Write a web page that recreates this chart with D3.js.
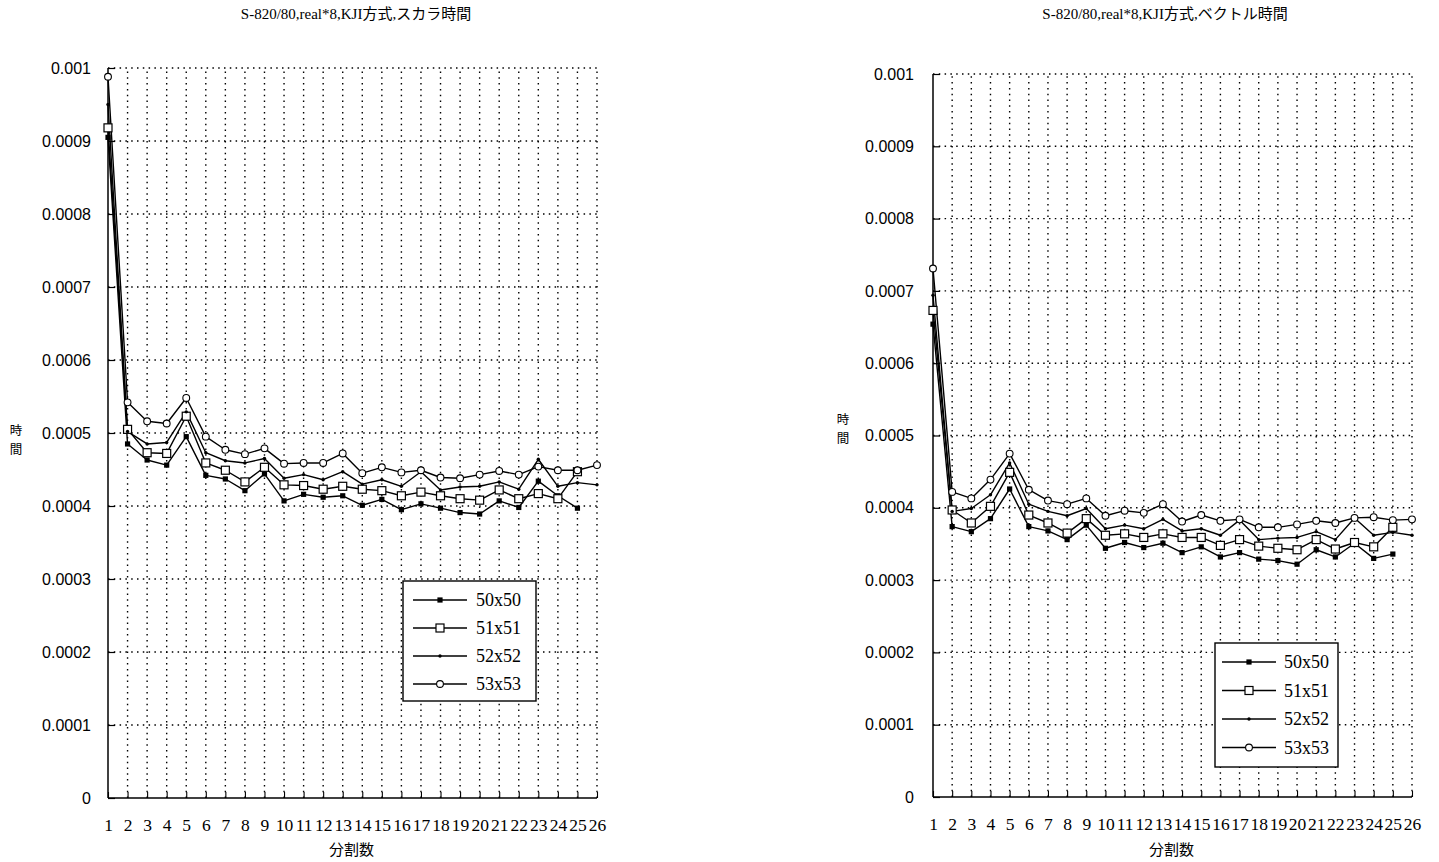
<!DOCTYPE html>
<html>
<head>
<meta charset="utf-8">
<script src="https://cdn.jsdelivr.net/npm/d3@7/dist/d3.min.js"></script>
<style>
  html, body { margin: 0; padding: 0; background: #fff; }
  svg { display: block; }
</style>
</head>
<body>
<svg id="chart" width="1439" height="862"></svg>
<script>
// Number of divisions (x categories)
const categories = [1, 2, 3, 4, 5, 6, 7, 8, 9, 10, 11, 12, 13, 14, 15, 16, 17, 18, 19, 20, 21, 22, 23, 24, 25, 26];

// Y axis ticks and their labels
const yTicks = [0, 0.0001, 0.0002, 0.0003, 0.0004, 0.0005, 0.0006, 0.0007, 0.0008, 0.0009, 0.001];
const yTickLabels = ["0", "0.0001", "0.0002", "0.0003", "0.0004", "0.0005", "0.0006", "0.0007", "0.0008", "0.0009", "0.001"];

const seriesNames = ["50x50", "51x51", "52x52", "53x53"];

// Scalar time (seconds)
const scalar50 = [0.000905, 0.000485, 0.000463, 0.000456, 0.000495, 0.000442, 0.000437, 0.000421, 0.000444, 0.000407, 0.000416, 0.000412, 0.000414, 0.000401, 0.000409, 0.000395, 0.000403, 0.000397, 0.000391, 0.000389, 0.000407, 0.000398, 0.000434, 0.000414, 0.000397, null];
const scalar51 = [0.000918, 0.000505, 0.000473, 0.000472, 0.000523, 0.000459, 0.000449, 0.000433, 0.000453, 0.000429, 0.000428, 0.000423, 0.000427, 0.000423, 0.000421, 0.000414, 0.000419, 0.000414, 0.000410, 0.000408, 0.000422, 0.000410, 0.000417, 0.000410, 0.000447, null];
const scalar52 = [0.000950, 0.000502, 0.000485, 0.000487, 0.000529, 0.000473, 0.000462, 0.000459, 0.000465, 0.000438, 0.000443, 0.000436, 0.000447, 0.000430, 0.000436, 0.000427, 0.000447, 0.000422, 0.000426, 0.000427, 0.000433, 0.000423, 0.000464, 0.000427, 0.000432, 0.000429];
const scalar53 = [0.000988, 0.000542, 0.000516, 0.000513, 0.000548, 0.000495, 0.000477, 0.000471, 0.000479, 0.000458, 0.000459, 0.000459, 0.000472, 0.000445, 0.000453, 0.000446, 0.000449, 0.000439, 0.000438, 0.000443, 0.000448, 0.000443, 0.000454, 0.000449, 0.000449, 0.000456];

// Vector time (seconds)
const vector50 = [0.000654, 0.000374, 0.000367, 0.000385, 0.000426, 0.000374, 0.000368, 0.000356, 0.000376, 0.000344, 0.000352, 0.000345, 0.000351, 0.000338, 0.000346, 0.000332, 0.000338, 0.000329, 0.000327, 0.000322, 0.000342, 0.000332, 0.000351, 0.000330, 0.000336, null];
const vector51 = [0.000673, 0.000397, 0.000379, 0.000402, 0.000449, 0.000390, 0.000379, 0.000365, 0.000385, 0.000362, 0.000364, 0.000359, 0.000364, 0.000359, 0.000359, 0.000348, 0.000356, 0.000347, 0.000344, 0.000342, 0.000356, 0.000343, 0.000352, 0.000346, 0.000373, null];
const vector52 = [0.000694, 0.000395, 0.000399, 0.000418, 0.000462, 0.000405, 0.000395, 0.000389, 0.000399, 0.000371, 0.000376, 0.000371, 0.000384, 0.000368, 0.000371, 0.000362, 0.000383, 0.000356, 0.000358, 0.000359, 0.000367, 0.000356, 0.000386, 0.000362, 0.000366, 0.000362];
const vector53 = [0.000731, 0.000422, 0.000413, 0.000439, 0.000475, 0.000425, 0.000410, 0.000405, 0.000413, 0.000389, 0.000396, 0.000393, 0.000405, 0.000381, 0.000390, 0.000382, 0.000384, 0.000373, 0.000373, 0.000377, 0.000382, 0.000379, 0.000386, 0.000387, 0.000383, 0.000384];

const svg = d3.select("#chart");
svg.append("rect").attr("width", 1439).attr("height", 862).attr("fill", "#fff");

const serif = "'Liberation Serif', 'DejaVu Serif', serif";
const sans = "'Liberation Sans', Arial, sans-serif";
const cjk = "'Noto Sans CJK JP', sans-serif";

// Marker drawing per series
function drawMarker(g, kind, cx, cy) {
  if (kind === 0) {
    g.append("rect").attr("x", cx - 2.6).attr("y", cy - 2.6).attr("width", 5.2).attr("height", 5.2).attr("fill", "#000");
  } else if (kind === 1) {
    g.append("rect").attr("x", cx - 4).attr("y", cy - 4).attr("width", 8).attr("height", 8)
      .attr("fill", "#fff").attr("stroke", "#000").attr("stroke-width", 1.2);
  } else if (kind === 2) {
    g.append("circle").attr("cx", cx).attr("cy", cy).attr("r", 1.7).attr("fill", "#000");
  } else {
    g.append("circle").attr("cx", cx).attr("cy", cy).attr("r", 3.4)
      .attr("fill", "#fff").attr("stroke", "#000").attr("stroke-width", 1.1);
  }
}

function drawPanel(cfg) {
  const x = d3.scalePoint().domain(categories).range([cfg.x0, cfg.x1]);
  const y = d3.scaleLinear().domain([0, 0.001]).range([cfg.yb, cfg.yt]);
  const g = svg.append("g");

  // Dotted grid
  const grid = g.append("g").attr("stroke", "#000").attr("stroke-width", 1.4)
    .attr("stroke-dasharray", "1.5,4.3").attr("fill", "none");
  categories.slice(1).forEach(c => {
    grid.append("line").attr("x1", x(c)).attr("x2", x(c)).attr("y1", y(0)).attr("y2", y(0.001));
  });
  yTicks.slice(1).forEach(v => {
    grid.append("line").attr("x1", cfg.x0).attr("x2", cfg.x1).attr("y1", y(v)).attr("y2", y(v));
  });

  // Y axis
  const yAxis = d3.axisLeft(y).tickValues(yTicks)
    .tickFormat((d, i) => yTickLabels[i]).tickSize(-7).tickPadding(cfg.yPad);
  const ya = g.append("g").attr("transform", `translate(${cfg.x0},0)`).call(yAxis);
  ya.select(".domain").attr("stroke", "#000").attr("stroke-width", 1.5).attr("d", `M0,${cfg.yb}V${cfg.yt}`);
  ya.selectAll(".tick line").attr("stroke", "#000").attr("stroke-width", 1.2);
  ya.selectAll(".tick text").attr("font-family", sans).attr("font-size", 16).attr("fill", "#000");

  // X axis
  const xAxis = d3.axisBottom(x).tickSize(-6).tickPadding(21);
  const xa = g.append("g").attr("transform", `translate(0,${cfg.yb})`).call(xAxis);
  xa.select(".domain").attr("stroke", "#000").attr("stroke-width", 1.5).attr("d", `M${cfg.x0},0H${cfg.x1}`);
  xa.selectAll(".tick line").attr("stroke", "#000").attr("stroke-width", 1.1);
  xa.selectAll(".tick text").attr("font-family", serif).attr("font-size", 17.5).attr("fill", "#000");

  // Lines and markers
  const line = d3.line().defined(d => d[1] !== null).x(d => x(d[0])).y(d => y(d[1]));
  cfg.series.forEach((vals, k) => {
    const pts = categories.map((c, i) => [c, vals[i]]);
    g.append("path").datum(pts).attr("d", line).attr("fill", "none")
      .attr("stroke", "#000").attr("stroke-width", 1.4).attr("stroke-linejoin", "round");
  });
  cfg.series.forEach((vals, k) => {
    const mg = g.append("g");
    categories.forEach((c, i) => {
      if (vals[i] !== null) drawMarker(mg, k, x(c), y(vals[i]));
    });
  });

  // Title
  g.append("text").attr("x", cfg.titleX).attr("y", 19).attr("text-anchor", "middle")
    .attr("font-family", `${serif}, ${cjk}`).attr("font-size", 15).attr("fill", "#000").text(cfg.title);

  // Y title, characters stacked vertically
  ["時", "間"].forEach((ch, i) => {
    g.append("text").attr("x", cfg.yTitleX).attr("y", cfg.yTitleY + i * 18.5)
      .attr("text-anchor", "middle").attr("font-family", cjk).attr("font-size", 12.5)
      .attr("fill", "#000").text(ch);
  });

  // X title
  g.append("text").attr("x", (cfg.x0 + cfg.x1) / 2 - 1).attr("y", 855).attr("text-anchor", "middle")
    .attr("font-family", cjk).attr("font-size", 15).attr("fill", "#000").text("分割数");

  // Legend
  const L = cfg.legend;
  const lg = g.append("g");
  lg.append("rect").attr("x", L.x).attr("y", L.y).attr("width", L.w).attr("height", L.h)
    .attr("fill", "#fff").attr("stroke", "#000").attr("stroke-width", 1.4);
  seriesNames.forEach((name, k) => {
    const ly = L.y + L.first + k * L.step;
    lg.append("line").attr("x1", L.x + L.lx0).attr("x2", L.x + L.lx1).attr("y1", ly).attr("y2", ly)
      .attr("stroke", "#000").attr("stroke-width", 1.4);
    drawMarker(lg, k, L.x + (L.lx0 + L.lx1) / 2, ly);
    lg.append("text").attr("x", L.x + L.tx).attr("y", ly + 6).attr("font-family", serif)
      .attr("font-size", 18).attr("fill", "#000").text(name);
  });
}

drawPanel({
  x0: 108, x1: 597, yb: 798, yt: 68, yPad: 17,
  series: [scalar50, scalar51, scalar52, scalar53],
  title: "S-820/80,real*8,KJI方式,スカラ時間", titleX: 356,
  yTitleX: 16, yTitleY: 435,
  legend: { x: 403, y: 581, w: 133, h: 120, first: 19, step: 28, lx0: 10, lx1: 64, tx: 73 }
});

drawPanel({
  x0: 933, x1: 1412, yb: 797, yt: 74, yPad: 19,
  series: [vector50, vector51, vector52, vector53],
  title: "S-820/80,real*8,KJI方式,ベクトル時間", titleX: 1165,
  yTitleX: 843, yTitleY: 424,
  legend: { x: 1215, y: 643, w: 123, h: 124, first: 19, step: 28.5, lx0: 7, lx1: 61, tx: 69 }
});
</script>
</body>
</html>
